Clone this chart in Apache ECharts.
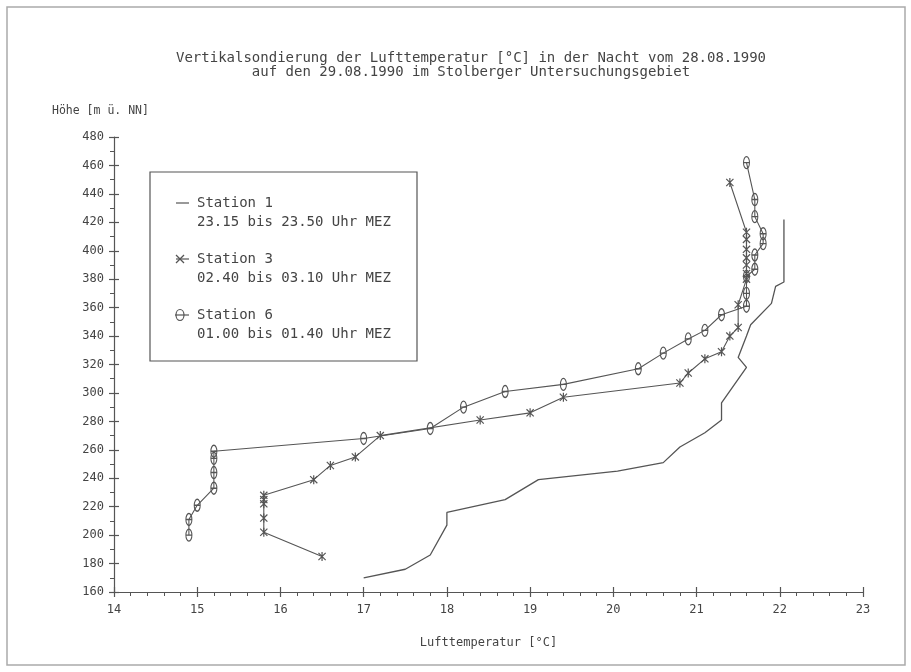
<!DOCTYPE html>
<html><head><meta charset="utf-8">
<script src="https://cdn.jsdelivr.net/npm/echarts@6/dist/echarts.min.js"></script>
<style>html,body{margin:0;padding:0;background:#fff}#c{width:911px;height:672px}</style>
</head><body><div id="c"></div>
<script>
const titleLines = ['Vertikalsondierung der Lufttemperatur [°C] in der Nacht vom 28.08.1990', 'auf den 29.08.1990 im Stolberger Untersuchungsgebiet'];
const yAxisName = 'Höhe [m ü. NN]';
const xAxisName = 'Lufttemperatur [°C]';
const seriesNames = ['Station 1', 'Station 3', 'Station 6'];
const seriesTimes = ['23.15 bis 23.50 Uhr MEZ', '02.40 bis 03.10 Uhr MEZ', '01.00 bis 01.40 Uhr MEZ'];

const st1Temp = [17.0, 17.5, 17.8, 18.0, 18.0, 18.7, 19.1, 20.05, 20.6, 20.8, 21.1, 21.3, 21.3, 21.6, 21.5, 21.6, 21.65, 21.9, 21.95, 22.05, 22.05];
const st1Height = [170, 176, 186, 207, 216, 225, 239, 245, 251, 262, 272, 281, 293, 318, 325, 340, 348, 363, 375, 378, 422];

const st3Temp = [16.5, 15.8, 15.8, 15.8, 15.8, 15.8, 16.4, 16.6, 16.9, 17.2, 18.4, 19.0, 19.4, 20.8, 20.9, 21.1, 21.3, 21.4, 21.5, 21.5, 21.6, 21.6, 21.6, 21.6, 21.6, 21.6, 21.6, 21.4];
const st3Height = [185, 202, 212, 222, 225, 228, 239, 249, 255, 270, 281, 286, 297, 307, 314, 324, 329, 340, 346, 362, 380, 384, 390, 395, 401, 408, 413, 448];

const st6Temp = [14.9, 14.9, 15.0, 15.2, 15.2, 15.2, 15.2, 17.0, 17.8, 18.2, 18.7, 19.4, 20.3, 20.6, 20.9, 21.1, 21.3, 21.6, 21.6, 21.6, 21.7, 21.7, 21.8, 21.8, 21.7, 21.7, 21.6];
const st6Height = [200, 211, 221, 233, 244, 254, 259, 268, 275, 290, 301, 306, 317, 328, 338, 344, 355, 361, 370, 382, 387, 397, 405, 412, 424, 436, 462];

const zip = (a, b) => a.map((v, i) => [v, b[i]]);
const INK = '#555';
const TXT = '#444';
const FONT = 'DejaVu Sans Mono';
const ASTER = 'path://M-4,-4L4,4M-4,4L4,-4M0,-5L0,5';
const THETA = 'path://M0,-6A4,6 0 1 1 0,6A4,6 0 1 1 0,-6Z M-4,0L4,0';

const chart = echarts.init(document.getElementById('c'), null, {renderer: 'canvas'});

const legX = 150, legY = 172;
const legendGraphics = [
  {type: 'rect', shape: {x: legX, y: legY, width: 267, height: 189}, style: {fill: 'none', stroke: INK, lineWidth: 1.2}}
];
seriesNames.forEach((n, i) => {
  const y0 = 203 + 56 * i;
  legendGraphics.push({type: 'text', x: 197, y: y0, style: {text: n, font: '14px ' + FONT, fill: TXT, verticalAlign: 'middle'}});
  legendGraphics.push({type: 'text', x: 197, y: y0 + 19, style: {text: seriesTimes[i], font: '14px ' + FONT, fill: TXT, verticalAlign: 'middle'}});
  if (i === 0) {
    legendGraphics.push({type: 'line', shape: {x1: 176, y1: y0, x2: 189, y2: y0}, style: {stroke: INK, lineWidth: 1.2}});
  } else if (i === 1) {
    legendGraphics.push({type: 'line', shape: {x1: 176, y1: y0 - 4, x2: 184, y2: y0 + 4}, style: {stroke: INK, lineWidth: 1.2}});
    legendGraphics.push({type: 'line', shape: {x1: 176, y1: y0 + 4, x2: 184, y2: y0 - 4}, style: {stroke: INK, lineWidth: 1.2}});
    legendGraphics.push({type: 'line', shape: {x1: 176, y1: y0, x2: 189, y2: y0}, style: {stroke: INK, lineWidth: 1.2}});
  } else {
    legendGraphics.push({type: 'ellipse', shape: {cx: 180, cy: y0, rx: 4, ry: 5.5}, style: {fill: 'none', stroke: INK, lineWidth: 1.2}});
    legendGraphics.push({type: 'line', shape: {x1: 175, y1: y0, x2: 189, y2: y0}, style: {stroke: INK, lineWidth: 1.2}});
  }
});

const baseX = {type: 'value', min: 14, max: 23, interval: 1, gridIndex: 0, splitLine: {show: false}};
const baseY = {type: 'value', min: 160, max: 480, interval: 20, gridIndex: 0, splitLine: {show: false}};

chart.setOption({
  animation: false,
  backgroundColor: '#fff',
  grid: {left: 114, right: 48, top: 137, bottom: 80, containLabel: false},
  xAxis: [
    Object.assign({}, baseX, {
      position: 'bottom',
      axisLine: {show: true, lineStyle: {color: INK, width: 1.2}},
      axisTick: {show: true, inside: false, length: 5, lineStyle: {color: INK, width: 1.2}},
      minorTick: {show: true, splitNumber: 5, length: 4, lineStyle: {color: INK, width: 1}},
      axisLabel: {show: true, color: TXT, fontFamily: FONT, fontSize: 12, margin: 12},
      name: xAxisName, nameLocation: 'middle', nameGap: 45,
      nameTextStyle: {color: TXT, fontFamily: FONT, fontSize: 12}
    }),
    Object.assign({}, baseX, {
      position: 'bottom',
      axisLine: {show: false},
      axisTick: {show: true, inside: true, length: 5, lineStyle: {color: INK, width: 1.2}},
      axisLabel: {show: false}
    })
  ],
  yAxis: [
    Object.assign({}, baseY, {
      position: 'left',
      axisLine: {show: true, lineStyle: {color: INK, width: 1.2}},
      axisTick: {show: true, inside: false, length: 5, lineStyle: {color: INK, width: 1.2}},
      minorTick: {show: true, splitNumber: 2, length: 4, lineStyle: {color: INK, width: 1}},
      axisLabel: {show: true, color: TXT, fontFamily: FONT, fontSize: 12, margin: 10}
    }),
    Object.assign({}, baseY, {
      position: 'left',
      axisLine: {show: false},
      axisTick: {show: true, inside: true, length: 5, lineStyle: {color: INK, width: 1.2}},
      axisLabel: {show: false}
    })
  ],
  graphic: [
    {type: 'rect', shape: {x: 7, y: 7, width: 898, height: 658}, style: {fill: 'none', stroke: '#aaa', lineWidth: 1.5}, silent: true},
    {type: 'text', x: 471, y: 58, style: {text: titleLines[0], font: '14px ' + FONT, fill: TXT, align: 'center', verticalAlign: 'middle'}},
    {type: 'text', x: 471, y: 72, style: {text: titleLines[1], font: '14px ' + FONT, fill: TXT, align: 'center', verticalAlign: 'middle'}},
    {type: 'text', x: 52, y: 111, style: {text: yAxisName, font: '11.5px ' + FONT, fill: TXT, align: 'left', verticalAlign: 'middle'}}
  ].concat(legendGraphics),
  series: [
    {
      name: seriesNames[0], type: 'line', data: zip(st1Temp, st1Height),
      symbol: 'none', lineStyle: {color: INK, width: 1.3}, z: 3
    },
    {
      name: seriesNames[1], type: 'line', data: zip(st3Temp, st3Height),
      symbol: ASTER, symbolSize: 9, symbolKeepAspect: true,
      itemStyle: {color: 'rgba(0,0,0,0)', borderColor: INK, borderWidth: 1.2},
      lineStyle: {color: INK, width: 1.1}, z: 4
    },
    {
      name: seriesNames[2], type: 'line', data: zip(st6Temp, st6Height),
      symbol: THETA, symbolSize: [9, 12], symbolKeepAspect: true,
      itemStyle: {color: 'rgba(0,0,0,0)', borderColor: INK, borderWidth: 1.2},
      lineStyle: {color: INK, width: 1.1}, z: 5
    }
  ]
});
</script></body></html>
